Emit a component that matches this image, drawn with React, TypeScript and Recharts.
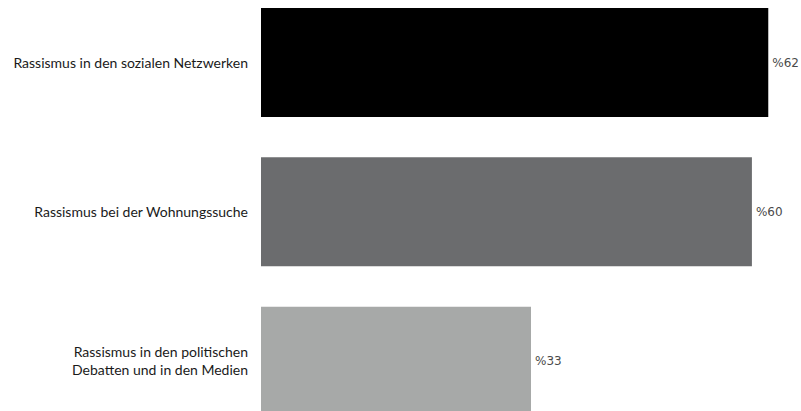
import React from 'react'
import { BarChart, Bar, XAxis, YAxis, Cell, LabelList } from 'recharts'

const KATEGORIEN = [
  'Rassismus in den sozialen Netzwerken',
  'Rassismus bei der Wohnungssuche',
  'Rassismus in den politischen\nDebatten und in den Medien',
]
const WERTE = [62, 60, 33]
const FARBEN = ['#000000', '#6b6c6e', '#a7a9a8']

const daten = KATEGORIEN.map((name, i) => ({ name, wert: WERTE[i] }))

const KategorieTick = (props: any) => {
  const { x, y, payload } = props
  const zeilen = String(payload.value).split('\n')
  const start = -((zeilen.length - 1) * 18) / 2
  return (
    <text x={x - 5} y={y} textAnchor="end" fontFamily="Lato, sans-serif" fontSize={14} fill="#1a1a1a">
      {zeilen.map((z, i) => (
        <tspan key={i} x={x - 5} dy={i === 0 ? start + 5 : 18}>
          {z}
        </tspan>
      ))}
    </text>
  )
}

const App: React.FC = () => {
  return (
    <div style={{ position: 'absolute', top: -12, left: 0, width: 801, height: 448, overflow: 'hidden' }}>
      <BarChart
        width={801}
        height={448}
        data={daten}
        layout="vertical"
        margin={{ top: 0, right: 0, bottom: 0, left: 0 }}
        barCategoryGap={20}
      >
        <XAxis type="number" domain={[0, 66]} hide />
        <YAxis
          type="category"
          dataKey="name"
          width={261}
          axisLine={false}
          tickLine={false}
          tick={<KategorieTick />}
          interval={0}
        />
        <Bar dataKey="wert" isAnimationActive={false}>
          {daten.map((_, i) => (
            <Cell key={i} fill={FARBEN[i]} />
          ))}
          <LabelList
            dataKey="wert"
            position="right"
            offset={4}
            formatter={(v: any) => `%${v}`}
            style={{ fontFamily: 'DejaVu Sans, sans-serif', fontSize: 12, fill: '#4a4a4a' }}
          />
        </Bar>
      </BarChart>
    </div>
  )
}

export default App
